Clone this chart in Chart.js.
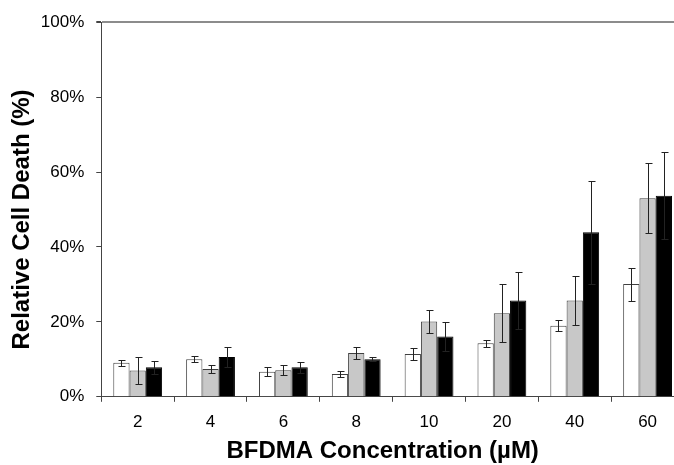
<!DOCTYPE html>
<html>
<head>
<meta charset="utf-8">
<script src="https://cdn.jsdelivr.net/npm/chart.js@4"></script>
<style>
html,body{margin:0;padding:0;background:#fff;overflow:hidden}
#wrap{position:relative;width:700px;height:465px}
</style>
</head>
<body>
<div id="wrap"><canvas id="chart" width="700" height="465"></canvas></div>
<script>
const categories=["2","4","6","8","10","20","40","60"]
const white=[9.1,10.0,6.7,6.1,11.4,14.3,19.0,30.1]
const whiteErr=[0.8,0.8,1.2,0.9,1.7,0.9,1.5,4.4]
const gray=[7.0,7.4,7.1,11.7,20.1,22.3,25.7,53.0]
const grayErr=[3.5,1.1,1.4,1.5,3.2,7.8,6.5,9.3]
const black=[7.9,10.6,7.9,10.0,16.1,25.7,43.9,53.7]
const blackErr=[1.7,2.6,1.5,0.5,3.8,7.6,13.7,11.6]
const yTicks=[0,20,40,60,80,100]

const font="'Liberation Sans', Arial, sans-serif"

// error bars drawn through the scales
const errorBars={
id:"errorBars",
afterDatasetsDraw(chart){
let ctx=chart.ctx
let y=chart.scales.y
ctx.save()
ctx.strokeStyle="#222"
ctx.lineWidth=1
chart.data.datasets.forEach((ds,i)=>{
let meta=chart.getDatasetMeta(i)
meta.data.forEach((bar,j)=>{
let v=ds.data[j],e=ds.err[j]
let x=Math.round(bar.x)+0.5
let top=Math.round(y.getPixelForValue(v+e))+0.5,bot=Math.round(y.getPixelForValue(v-e))+0.5
ctx.beginPath()
ctx.moveTo(x,top);ctx.lineTo(x,bot)
ctx.moveTo(x-3,top);ctx.lineTo(x+4,top)
ctx.moveTo(x-3,bot);ctx.lineTo(x+4,bot)
ctx.stroke()
})
})
ctx.restore()
}
}

new Chart(document.getElementById("chart"),{
type:"bar",
data:{
labels:categories,
datasets:[
{data:white,err:whiteErr,backgroundColor:"#ffffff",borderColor:"#404040",borderWidth:1},
{data:gray,err:grayErr,backgroundColor:"#c8c8c8",borderColor:"#404040",borderWidth:1},
{data:black,err:blackErr,backgroundColor:"#000000",borderColor:"#000000",borderWidth:1}
]
},
options:{
responsive:false,
animation:false,
datasets:{bar:{categoryPercentage:0.67,barPercentage:1}},
layout:{padding:{top:18,right:16,bottom:0,left:0}},
plugins:{legend:{display:false},tooltip:{enabled:false}},
scales:{
x:{
grid:{offset:true,drawOnChartArea:false,tickLength:5,tickColor:"#444"},
border:{color:"#444",width:1},
ticks:{color:"#000",font:{family:font,size:17},padding:10},
// trailing spaces nudge the centred title a little to the left
title:{display:true,text:"BFDMA Concentration (µM)   ",color:"#000",font:{family:font,size:24,weight:"bold"},padding:{top:-5,bottom:-1}}
},
y:{
min:0,max:100,
afterBuildTicks:s=>{s.ticks=yTicks.map(v=>({value:v}))},
grid:{color:c=>c.tick&&c.tick.value===100?"#8c8c8c":"rgba(0,0,0,0)",lineWidth:c=>c.tick&&c.tick.value===100?2:1,tickLength:5,tickColor:"#444"},
border:{color:"#444",width:1},
ticks:{color:"#000",font:{family:font,size:17},padding:12,callback:v=>v+"%"},
title:{display:true,text:"Relative Cell Death (%)   ",color:"#000",font:{family:font,size:24,weight:"bold"},padding:{top:8,bottom:-8}}
}
}
},
plugins:[errorBars]
})
</script>
</body>
</html>
